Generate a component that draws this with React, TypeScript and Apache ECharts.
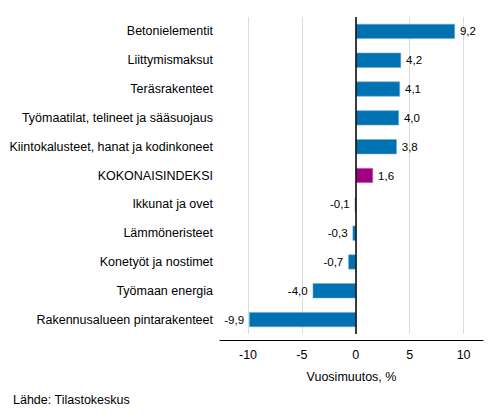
import React, { useEffect, useRef } from "react";
import * as echarts from "echarts";

const categories = [
  "Betonielementit",
  "Liittymismaksut",
  "Teräsrakenteet",
  "Työmaatilat, telineet ja sääsuojaus",
  "Kiintokalusteet, hanat ja kodinkoneet",
  "KOKONAISINDEKSI",
  "Ikkunat ja ovet",
  "Lämmöneristeet",
  "Konetyöt ja nostimet",
  "Työmaan energia",
  "Rakennusalueen pintarakenteet",
];
const values = [9.2, 4.2, 4.1, 4.0, 3.8, 1.6, -0.1, -0.3, -0.7, -4.0, -9.9];
const xTicks = [-10, -5, 0, 5, 10];
const highlight = "KOKONAISINDEKSI";

const BLUE = "#0072b2";
const PURPLE = "#a0007f";

const fmt = (v: number) => v.toFixed(1).replace(".", ",");

const App: React.FC = () => {
  const chartRef = useRef<HTMLDivElement>(null);

  useEffect(() => {
    document.body.style.margin = "0";
    if (!chartRef.current) return;
    const chart = echarts.init(chartRef.current, null, { renderer: "svg" });

    const option = {
      animation: false,
      textStyle: { fontFamily: "Liberation Sans, Arial, sans-serif", color: "#000" },
      title: {
        text: "Lähde: Tilastokeskus",
        left: 13,
        top: 393,
        padding: 0,
        textStyle: { fontSize: 12.5, fontWeight: "normal", color: "#000" },
      },
      grid: { left: 220, right: 10, top: 17, height: 317 },
      xAxis: {
        type: "value",
        min: -12.6,
        max: 11.8,
        offset: 6,
        axisLine: { show: true, lineStyle: { color: "#000", width: 1 } },
        axisTick: { show: false, customValues: xTicks },
        axisLabel: {
          customValues: xTicks,
          color: "#000",
          fontSize: 12.5,
          margin: 8,
          formatter: (v: number) => String(v),
        },
        splitLine: { show: true, lineStyle: { color: "#dcdcdc", width: 1 } },
        name: "Vuosimuutos, %",
        nameLocation: "middle",
        nameGap: 30,
        nameTextStyle: { fontSize: 12.5, color: "#000" },
      },
      yAxis: {
        type: "category",
        inverse: true,
        data: categories,
        axisLine: { show: false },
        axisTick: { show: false },
        axisLabel: { color: "#000", fontSize: 12.5, margin: 7 },
      },
      series: [
        {
          type: "bar",
          barWidth: 15,
          data: values.map((v, i) => ({
            value: v,
            itemStyle: {
              color: categories[i] === highlight ? PURPLE : BLUE,
              borderColor: categories[i] === highlight ? "#c870b8" : "#6aa8d6",
              borderWidth: 0.6,
            },
            label: { position: v >= 0 ? "right" : "left" },
          })),
          label: {
            show: true,
            distance: 5,
            fontSize: 11.5,
            color: "#000",
            formatter: (p: any) => fmt(p.value),
          },
          markLine: {
            silent: true,
            symbol: "none",
            label: { show: false },
            lineStyle: { color: "#000", width: 1.5, type: "solid" },
            data: [{ xAxis: 0 }],
          },
        },
      ],
    };

    chart.setOption(option);
    return () => {
      chart.dispose();
    };
  }, []);

  return <div ref={chartRef} style={{ width: 493, height: 416 }} />;
};

export default App;
